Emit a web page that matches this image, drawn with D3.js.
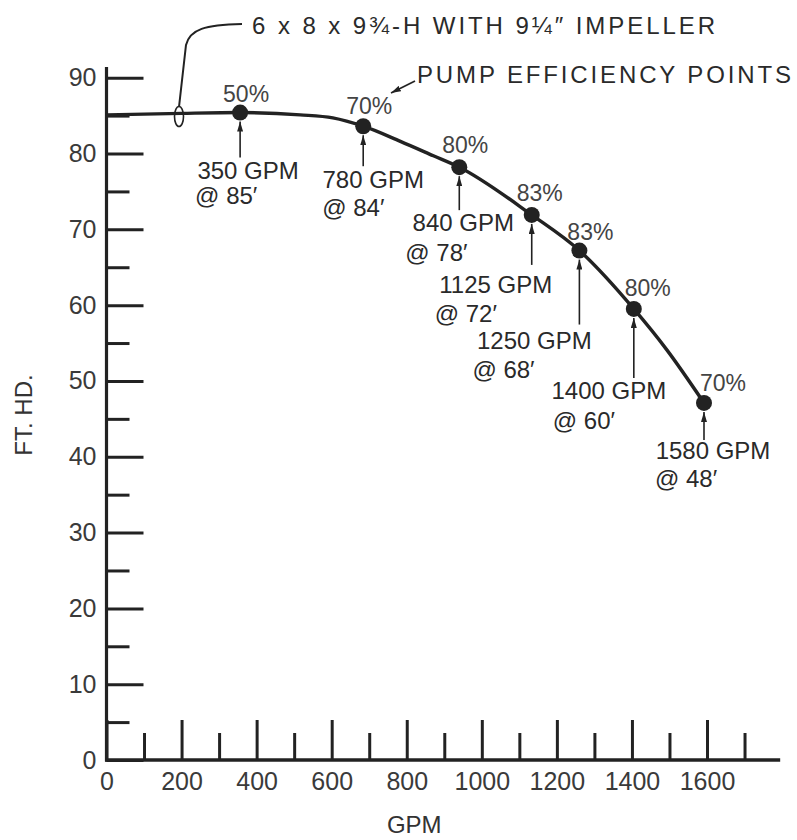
<!DOCTYPE html>
<html><head><meta charset="utf-8">
<script src="https://cdn.jsdelivr.net/npm/d3@7"></script>
<style>
body{margin:0;background:#fff}
svg{display:block}
text{font-family:"Liberation Sans", Arial, Helvetica, sans-serif;}
</style>
</head><body>
<svg id="c" width="797" height="840"></svg>
<script>
// ---------- data ----------
const titleText = "6 x 8 x 9¾-H  WITH  9¼″  IMPELLER";
const calloutText = "PUMP  EFFICIENCY  POINTS";
const xLabel = "GPM";
const yLabel = "FT. HD.";
const xMajorTicks = [0, 200, 400, 600, 800, 1000, 1200, 1400, 1600];
const xMinorTicks = [100, 300, 500, 700, 900, 1100, 1300, 1500, 1700];
const yMajorTicks = [0, 10, 20, 30, 40, 50, 60, 70, 80, 90];
const yMinorTicks = [5, 15, 25, 35, 45, 55, 65, 75, 85];
// head-capacity curve
const curveGpm  = [0, 200, 356, 516, 603, 684, 783, 871, 940, 1133, 1260, 1405, 1493, 1592];
const curveHead = [85.1, 85.3, 85.4, 85.1, 84.7, 83.6, 81.6, 79.7, 78.2, 71.9, 67.2, 59.5, 54.1, 47.1];
// efficiency points as plotted
const pointGpm  = [356, 684, 940, 1133, 1260, 1405, 1592];
const pointHead = [85.4, 83.6, 78.2, 71.9, 67.2, 59.5, 47.1];
const efficiency = ["50%", "70%", "80%", "83%", "83%", "80%", "70%"];
const ratedFlow  = ["350 GPM", "780 GPM", "840 GPM", "1125 GPM", "1250 GPM", "1400 GPM", "1580 GPM"];
const ratedHead  = ["@ 85′", "@ 84′", "@ 78′", "@ 72′", "@ 68′", "@ 60′", "@ 48′"];

// ---------- layout (pixel offsets from each point) ----------
const labelLayout = [
  {pct:[6,-19],  flow:[8,58],   head:[-45,83],  arrowLen:36},
  {pct:[6,-20],  flow:[10,53],  head:[-41,81],  arrowLen:31},
  {pct:[6,-22],  flow:[4,55],   head:[-54,85],  arrowLen:34},
  {pct:[8,-22],  flow:[-36,70], head:[-97,99],  arrowLen:41},
  {pct:[11,-19], flow:[-45,90], head:[-107,119],arrowLen:65},
  {pct:[14,-21], flow:[-25,82], head:[-81,112], arrowLen:60},
  {pct:[19,-20], flow:[9,48],   head:[-49,76],  arrowLen:28}
];

const ink = "#222";
const svg = d3.select("#c");
svg.append("rect").attr("width",797).attr("height",840).attr("fill","#fff");

const x = d3.scaleLinear().domain([0, 1600]).range([106.5, 707]);
const y = d3.scaleLinear().domain([0, 90]).range([760, 77.7]);

const defs = svg.append("defs");
defs.append("marker").attr("id","ah")
  .attr("viewBox","0 0 10 6").attr("refX",10).attr("refY",3)
  .attr("markerWidth",10).attr("markerHeight",6)
  .attr("markerUnits","userSpaceOnUse").attr("orient","auto")
  .append("path").attr("d","M0,0 L10,3 L0,6 Z").attr("fill",ink);

function styleAxis(g){
  g.select(".domain").remove();
  g.attr("font-family",null).attr("font-size",null);
  g.selectAll(".tick line").attr("stroke",ink).attr("stroke-width",3);
  g.selectAll(".tick text").attr("fill","#3a3a3a").style("font-size","25px");
}

// x axis ticks
svg.append("g").attr("transform",`translate(0,${y(0)})`)
  .call(d3.axisBottom(x).tickValues(xMajorTicks).tickFormat(d3.format("d"))
    .tickSizeInner(-40).tickSizeOuter(0).tickPadding(12))
  .call(styleAxis);
svg.append("g").attr("transform",`translate(0,${y(0)})`)
  .call(d3.axisBottom(x).tickValues(xMinorTicks).tickFormat("")
    .tickSizeInner(-27).tickSizeOuter(0))
  .call(styleAxis);

// y axis ticks
svg.append("g").attr("transform",`translate(${x(0)},0)`)
  .call(d3.axisLeft(y).tickValues(yMajorTicks).tickFormat(d3.format("d"))
    .tickSizeInner(-37).tickSizeOuter(0).tickPadding(10))
  .call(styleAxis);
svg.append("g").attr("transform",`translate(${x(0)},0)`)
  .call(d3.axisLeft(y).tickValues(yMinorTicks).tickFormat("")
    .tickSizeInner(-23).tickSizeOuter(0))
  .call(styleAxis);

// axis lines
svg.append("line").attr("x1",x(0)).attr("x2",x(0)).attr("y1",y(0)+1.5).attr("y2",y(91.4))
  .attr("stroke",ink).attr("stroke-width",3.2);
svg.append("line").attr("x1",x(0)-1.5).attr("x2",x(1795)).attr("y1",y(0)).attr("y2",y(0))
  .attr("stroke",ink).attr("stroke-width",3.4);

// axis titles
svg.append("text").attr("x",x(820)).attr("y",825).attr("dy","0.35em")
  .attr("text-anchor","middle").attr("fill","#333").style("font-size","24px").text(xLabel);
svg.append("text").attr("transform","translate(24,415) rotate(-90)").attr("dy","0.35em")
  .attr("text-anchor","middle").attr("fill","#333").style("font-size","24px").text(yLabel);

// curve
const curveData = curveGpm.map((g,i)=>({g, h:curveHead[i]}));
svg.append("path").datum(curveData)
  .attr("d", d3.line().x(d=>x(d.g)).y(d=>y(d.h)).curve(d3.curveMonotoneX))
  .attr("fill","none").attr("stroke",ink).attr("stroke-width",3.4);

// points
const pts = pointGpm.map((g,i)=>({g, h:pointHead[i], i}));
svg.selectAll("circle.pt").data(pts).join("circle").attr("class","pt")
  .attr("cx",d=>x(d.g)).attr("cy",d=>y(d.h)).attr("r",8).attr("fill",ink);

// arrows + labels
pts.forEach(d=>{
  const L = labelLayout[d.i];
  const px = x(d.g), py = y(d.h);
  svg.append("line").attr("x1",px).attr("x2",px)
    .attr("y1",py+9+L.arrowLen).attr("y2",py+9)
    .attr("stroke",ink).attr("stroke-width",1.6).attr("marker-end","url(#ah)");
  svg.append("text").attr("x",px+L.pct[0]).attr("y",py+L.pct[1]).attr("dy","0.35em")
    .attr("text-anchor","middle").attr("fill","#444").style("font-size","23px").text(efficiency[d.i]);
  svg.append("text").attr("x",px+L.flow[0]).attr("y",py+L.flow[1]).attr("dy","0.35em")
    .attr("text-anchor","middle").attr("fill","#2a2a2a").style("font-size","24px").text(ratedFlow[d.i]);
  svg.append("text").attr("x",px+L.head[0]).attr("y",py+L.head[1]).attr("dy","0.35em")
    .attr("text-anchor","start").attr("fill","#2a2a2a").style("font-size","24px").text(ratedHead[d.i]);
});

// title + leader
svg.append("text").attr("x",252).attr("y",26).attr("dy","0.35em")
  .attr("textLength",463).attr("lengthAdjust","spacing")
  .attr("fill","#2a2a2a").style("font-size","24px").text(titleText);
svg.append("path").attr("d","M242,24 C205,25 190,29 186,45 L179,107")
  .attr("fill","none").attr("stroke",ink).attr("stroke-width",2);
svg.append("ellipse").attr("cx",179).attr("cy",116.5).attr("rx",4.5).attr("ry",10)
  .attr("fill","none").attr("stroke",ink).attr("stroke-width",1.6);

// callout
svg.append("text").attr("x",417).attr("y",75).attr("dy","0.35em")
  .attr("textLength",374).attr("lengthAdjust","spacing")
  .attr("fill","#2a2a2a").style("font-size","24px").text(calloutText);
svg.append("line").attr("x1",415).attr("y1",81).attr("x2",391).attr("y2",93)
  .attr("stroke",ink).attr("stroke-width",1.8).attr("marker-end","url(#ah)");
</script>
</body></html>
